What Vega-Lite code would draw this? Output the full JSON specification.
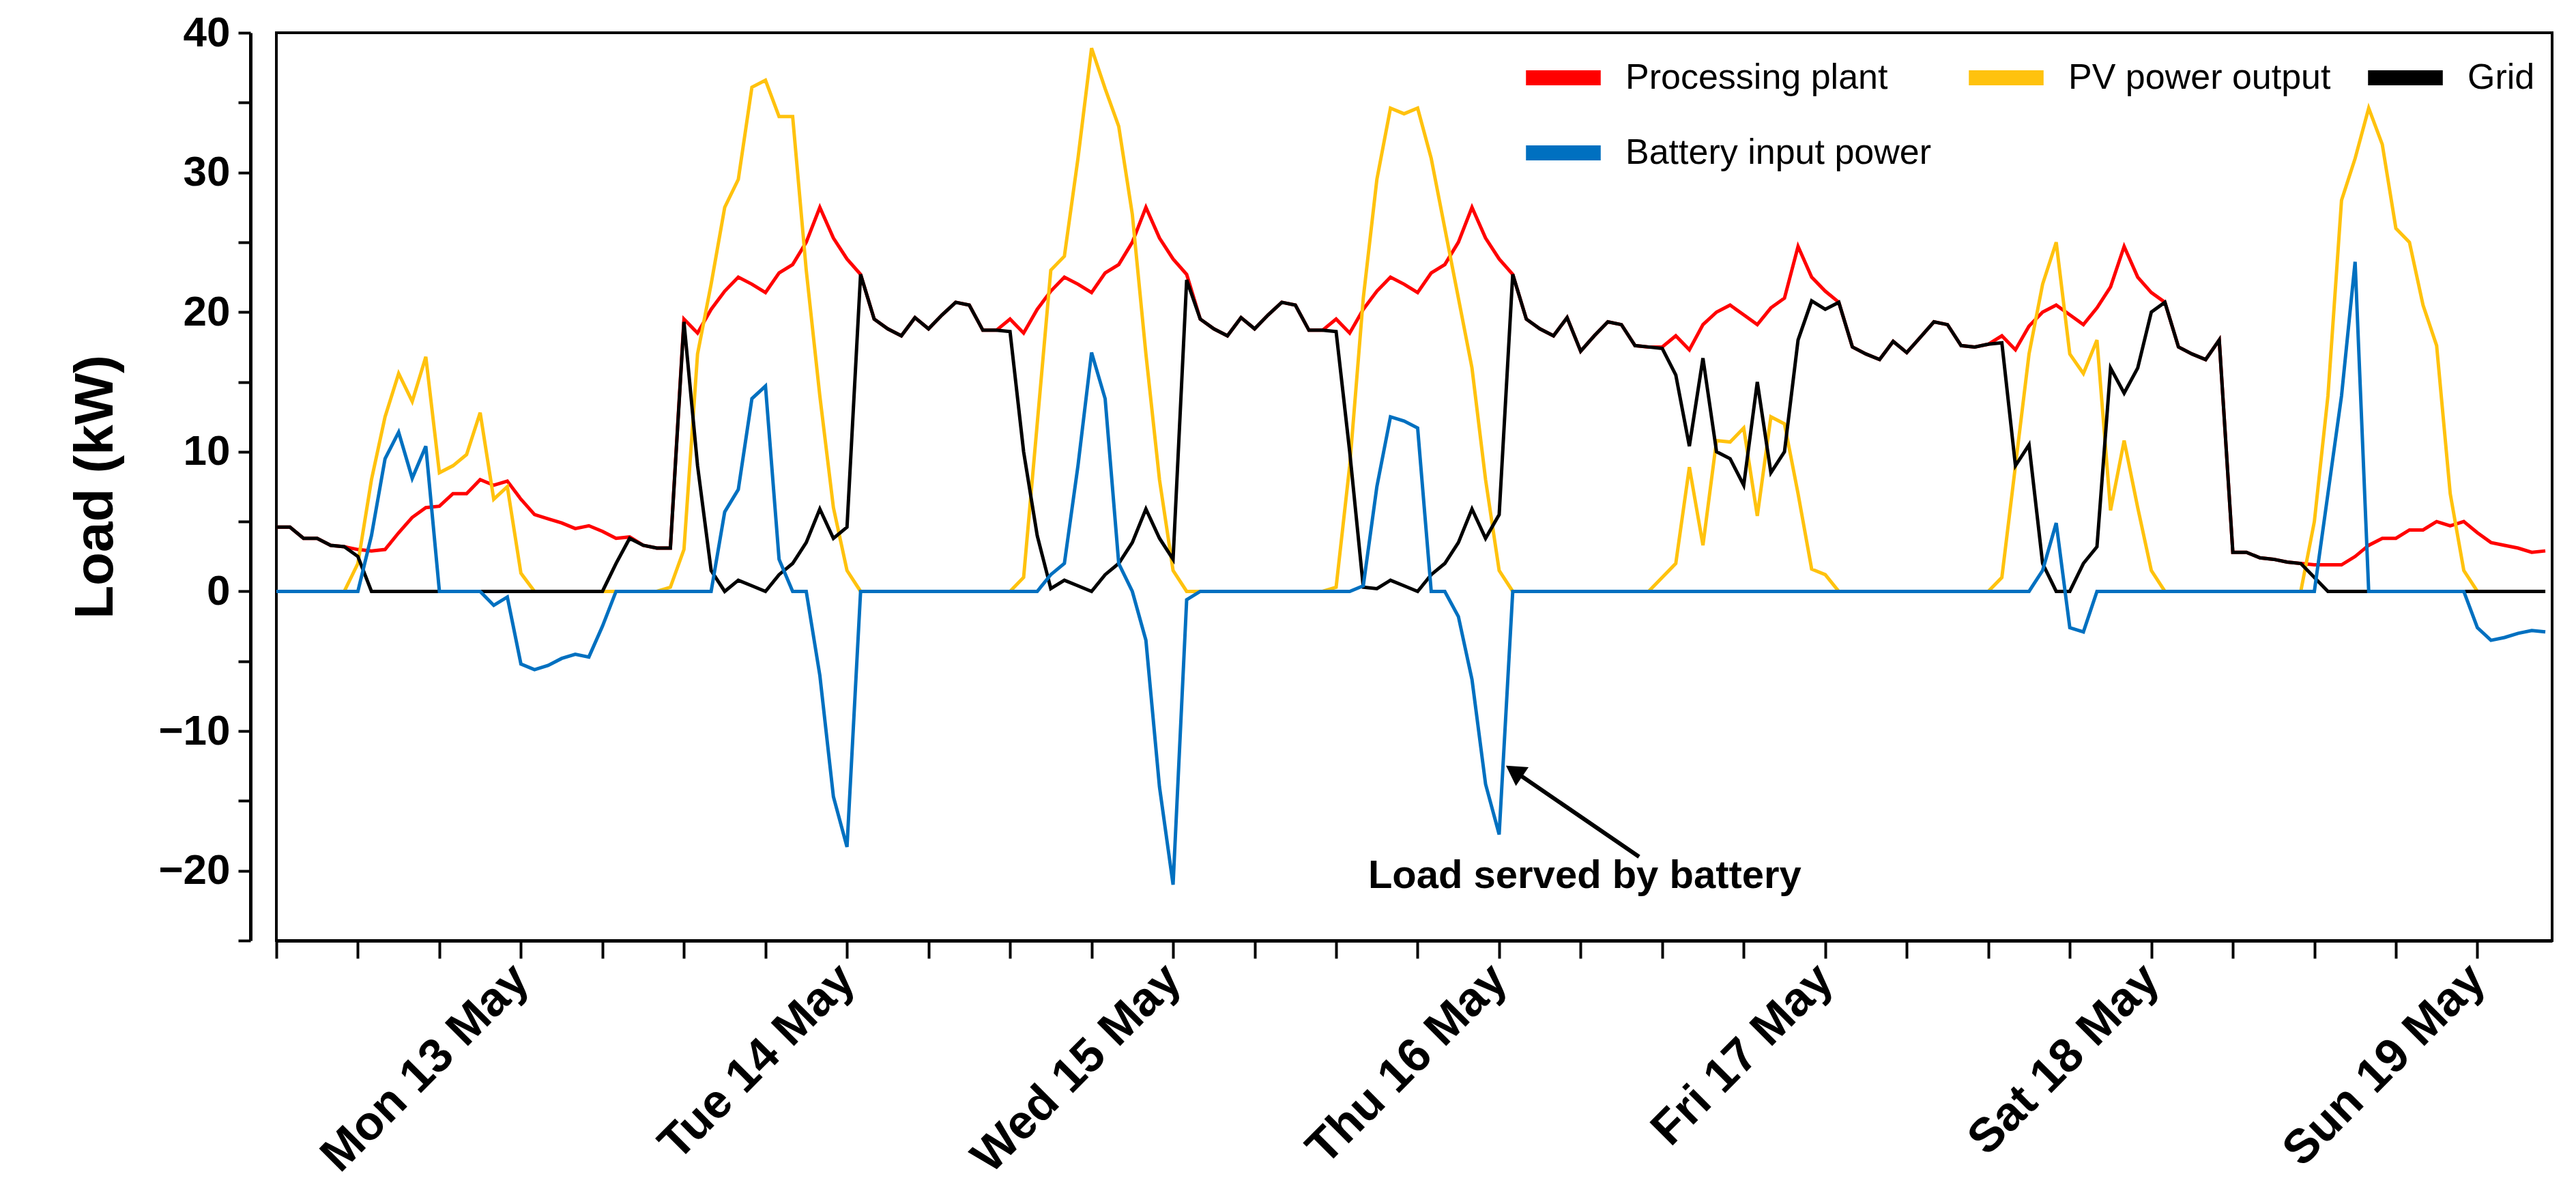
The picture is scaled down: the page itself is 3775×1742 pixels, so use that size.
{
  "$schema": "https://vega.github.io/schema/vega-lite/v6.json",
  "width": 3335,
  "height": 1330,
  "autosize": "none",
  "padding": {"left": 405, "top": 48, "right": 35, "bottom": 364},
  "background": "white",
  "config": {
    "view": {"stroke": "black", "strokeWidth": 4},
    "font": "Liberation Sans"
  },
  "layer": [
    {
      "data": {"values": [
        {"h":0,"load":4.6,"grid":4.6,"pv":0,"battery":0},
        {"h":1,"load":4.6,"grid":4.6,"pv":0,"battery":0},
        {"h":2,"load":3.8,"grid":3.8,"pv":0,"battery":0},
        {"h":3,"load":3.8,"grid":3.8,"pv":0,"battery":0},
        {"h":4,"load":3.3,"grid":3.3,"pv":0,"battery":0},
        {"h":5,"load":3.2,"grid":3.2,"pv":0,"battery":0},
        {"h":6,"load":3.0,"grid":2.5,"pv":2,"battery":0},
        {"h":7,"load":2.9,"grid":0,"pv":8,"battery":4},
        {"h":8,"load":3.0,"grid":0,"pv":12.5,"battery":9.5},
        {"h":9,"load":4.2,"grid":0,"pv":15.6,"battery":11.4},
        {"h":10,"load":5.3,"grid":0,"pv":13.6,"battery":8.1},
        {"h":11,"load":6.0,"grid":0,"pv":16.8,"battery":10.4},
        {"h":12,"load":6.1,"grid":0,"pv":8.5,"battery":0},
        {"h":13,"load":7.0,"grid":0,"pv":9,"battery":0},
        {"h":14,"load":7.0,"grid":0,"pv":9.8,"battery":0},
        {"h":15,"load":8.0,"grid":0,"pv":12.8,"battery":0},
        {"h":16,"load":7.6,"grid":0,"pv":6.6,"battery":-1.0},
        {"h":17,"load":7.9,"grid":0,"pv":7.5,"battery":-0.4},
        {"h":18,"load":6.6,"grid":0,"pv":1.3,"battery":-5.2},
        {"h":19,"load":5.5,"grid":0,"pv":0,"battery":-5.6},
        {"h":20,"load":5.2,"grid":0,"pv":0,"battery":-5.3},
        {"h":21,"load":4.9,"grid":0,"pv":0,"battery":-4.8},
        {"h":22,"load":4.5,"grid":0,"pv":0,"battery":-4.5},
        {"h":23,"load":4.7,"grid":0,"pv":0,"battery":-4.7},
        {"h":24,"load":4.3,"grid":0,"pv":0,"battery":-2.5},
        {"h":25,"load":3.8,"grid":2.0,"pv":0,"battery":0},
        {"h":26,"load":3.9,"grid":3.8,"pv":0,"battery":0},
        {"h":27,"load":3.3,"grid":3.3,"pv":0,"battery":0},
        {"h":28,"load":3.1,"grid":3.1,"pv":0,"battery":0},
        {"h":29,"load":3.1,"grid":3.1,"pv":0.3,"battery":0},
        {"h":30,"load":19.5,"grid":19.3,"pv":3,"battery":0},
        {"h":31,"load":18.5,"grid":9,"pv":17,"battery":0},
        {"h":32,"load":20.2,"grid":1.5,"pv":22,"battery":0},
        {"h":33,"load":21.5,"grid":0,"pv":27.5,"battery":5.7},
        {"h":34,"load":22.5,"grid":0.8,"pv":29.5,"battery":7.3},
        {"h":35,"load":22.0,"grid":0.4,"pv":36.1,"battery":13.8},
        {"h":36,"load":21.4,"grid":0,"pv":36.6,"battery":14.7},
        {"h":37,"load":22.8,"grid":1.2,"pv":34,"battery":2.3},
        {"h":38,"load":23.4,"grid":2.0,"pv":34,"battery":0},
        {"h":39,"load":25.0,"grid":3.5,"pv":23,"battery":0},
        {"h":40,"load":27.5,"grid":5.9,"pv":14,"battery":-6},
        {"h":41,"load":25.3,"grid":3.8,"pv":6,"battery":-14.7},
        {"h":42,"load":23.8,"grid":4.6,"pv":1.5,"battery":-18.3},
        {"h":43,"load":22.7,"grid":22.7,"pv":0,"battery":0},
        {"h":44,"load":19.5,"grid":19.5,"pv":0,"battery":0},
        {"h":45,"load":18.8,"grid":18.8,"pv":0,"battery":0},
        {"h":46,"load":18.3,"grid":18.3,"pv":0,"battery":0},
        {"h":47,"load":19.6,"grid":19.6,"pv":0,"battery":0},
        {"h":48,"load":18.8,"grid":18.8,"pv":0,"battery":0},
        {"h":49,"load":19.8,"grid":19.8,"pv":0,"battery":0},
        {"h":50,"load":20.7,"grid":20.7,"pv":0,"battery":0},
        {"h":51,"load":20.5,"grid":20.5,"pv":0,"battery":0},
        {"h":52,"load":18.7,"grid":18.7,"pv":0,"battery":0},
        {"h":53,"load":18.7,"grid":18.7,"pv":0,"battery":0},
        {"h":54,"load":19.5,"grid":18.6,"pv":0,"battery":0},
        {"h":55,"load":18.5,"grid":10,"pv":1,"battery":0},
        {"h":56,"load":20.2,"grid":4,"pv":12,"battery":0},
        {"h":57,"load":21.5,"grid":0.2,"pv":23,"battery":1.2},
        {"h":58,"load":22.5,"grid":0.8,"pv":24,"battery":2},
        {"h":59,"load":22.0,"grid":0.4,"pv":31,"battery":9},
        {"h":60,"load":21.4,"grid":0,"pv":38.9,"battery":17.1},
        {"h":61,"load":22.8,"grid":1.2,"pv":36,"battery":13.8},
        {"h":62,"load":23.4,"grid":2.0,"pv":33.3,"battery":2},
        {"h":63,"load":25.0,"grid":3.5,"pv":27,"battery":0},
        {"h":64,"load":27.5,"grid":5.9,"pv":17,"battery":-3.5},
        {"h":65,"load":25.3,"grid":3.8,"pv":8,"battery":-14},
        {"h":66,"load":23.8,"grid":2.3,"pv":1.5,"battery":-21},
        {"h":67,"load":22.7,"grid":22.3,"pv":0,"battery":-0.6},
        {"h":68,"load":19.5,"grid":19.5,"pv":0,"battery":0},
        {"h":69,"load":18.8,"grid":18.8,"pv":0,"battery":0},
        {"h":70,"load":18.3,"grid":18.3,"pv":0,"battery":0},
        {"h":71,"load":19.6,"grid":19.6,"pv":0,"battery":0},
        {"h":72,"load":18.8,"grid":18.8,"pv":0,"battery":0},
        {"h":73,"load":19.8,"grid":19.8,"pv":0,"battery":0},
        {"h":74,"load":20.7,"grid":20.7,"pv":0,"battery":0},
        {"h":75,"load":20.5,"grid":20.5,"pv":0,"battery":0},
        {"h":76,"load":18.7,"grid":18.7,"pv":0,"battery":0},
        {"h":77,"load":18.7,"grid":18.7,"pv":0,"battery":0},
        {"h":78,"load":19.5,"grid":18.6,"pv":0.3,"battery":0},
        {"h":79,"load":18.5,"grid":10,"pv":9,"battery":0},
        {"h":80,"load":20.2,"grid":0.3,"pv":21,"battery":0.4},
        {"h":81,"load":21.5,"grid":0.2,"pv":29.5,"battery":7.5},
        {"h":82,"load":22.5,"grid":0.8,"pv":34.6,"battery":12.5},
        {"h":83,"load":22.0,"grid":0.4,"pv":34.2,"battery":12.2},
        {"h":84,"load":21.4,"grid":0,"pv":34.6,"battery":11.7},
        {"h":85,"load":22.8,"grid":1.2,"pv":31,"battery":0},
        {"h":86,"load":23.4,"grid":2.0,"pv":26,"battery":0},
        {"h":87,"load":25.0,"grid":3.5,"pv":21,"battery":-1.8},
        {"h":88,"load":27.5,"grid":5.9,"pv":16,"battery":-6.3},
        {"h":89,"load":25.3,"grid":3.8,"pv":8,"battery":-13.8},
        {"h":90,"load":23.8,"grid":5.5,"pv":1.5,"battery":-17.4},
        {"h":91,"load":22.7,"grid":22.7,"pv":0,"battery":0},
        {"h":92,"load":19.5,"grid":19.5,"pv":0,"battery":0},
        {"h":93,"load":18.8,"grid":18.8,"pv":0,"battery":0},
        {"h":94,"load":18.3,"grid":18.3,"pv":0,"battery":0},
        {"h":95,"load":19.6,"grid":19.6,"pv":0,"battery":0},
        {"h":96,"load":17.2,"grid":17.2,"pv":0,"battery":0},
        {"h":97,"load":18.3,"grid":18.3,"pv":0,"battery":0},
        {"h":98,"load":19.3,"grid":19.3,"pv":0,"battery":0},
        {"h":99,"load":19.1,"grid":19.1,"pv":0,"battery":0},
        {"h":100,"load":17.6,"grid":17.6,"pv":0,"battery":0},
        {"h":101,"load":17.5,"grid":17.5,"pv":0,"battery":0},
        {"h":102,"load":17.5,"grid":17.4,"pv":1,"battery":0},
        {"h":103,"load":18.3,"grid":15.5,"pv":2,"battery":0},
        {"h":104,"load":17.3,"grid":10.4,"pv":8.9,"battery":0},
        {"h":105,"load":19.1,"grid":16.7,"pv":3.3,"battery":0},
        {"h":106,"load":20.0,"grid":10,"pv":10.8,"battery":0},
        {"h":107,"load":20.5,"grid":9.5,"pv":10.7,"battery":0},
        {"h":108,"load":19.8,"grid":7.6,"pv":11.7,"battery":0},
        {"h":109,"load":19.1,"grid":15,"pv":5.4,"battery":0},
        {"h":110,"load":20.3,"grid":8.5,"pv":12.5,"battery":0},
        {"h":111,"load":21.0,"grid":10,"pv":12,"battery":0},
        {"h":112,"load":24.7,"grid":18,"pv":7,"battery":0},
        {"h":113,"load":22.5,"grid":20.8,"pv":1.6,"battery":0},
        {"h":114,"load":21.5,"grid":20.2,"pv":1.2,"battery":0},
        {"h":115,"load":20.7,"grid":20.7,"pv":0,"battery":0},
        {"h":116,"load":17.5,"grid":17.5,"pv":0,"battery":0},
        {"h":117,"load":17.0,"grid":17.0,"pv":0,"battery":0},
        {"h":118,"load":16.6,"grid":16.6,"pv":0,"battery":0},
        {"h":119,"load":17.9,"grid":17.9,"pv":0,"battery":0},
        {"h":120,"load":17.1,"grid":17.1,"pv":0,"battery":0},
        {"h":121,"load":18.2,"grid":18.2,"pv":0,"battery":0},
        {"h":122,"load":19.3,"grid":19.3,"pv":0,"battery":0},
        {"h":123,"load":19.1,"grid":19.1,"pv":0,"battery":0},
        {"h":124,"load":17.6,"grid":17.6,"pv":0,"battery":0},
        {"h":125,"load":17.5,"grid":17.5,"pv":0,"battery":0},
        {"h":126,"load":17.7,"grid":17.7,"pv":0,"battery":0},
        {"h":127,"load":18.3,"grid":17.8,"pv":1,"battery":0},
        {"h":128,"load":17.3,"grid":9,"pv":9,"battery":0},
        {"h":129,"load":19.0,"grid":10.5,"pv":17,"battery":0},
        {"h":130,"load":20.0,"grid":2,"pv":22,"battery":1.5},
        {"h":131,"load":20.5,"grid":0,"pv":25,"battery":4.9},
        {"h":132,"load":19.8,"grid":0,"pv":17,"battery":-2.6},
        {"h":133,"load":19.1,"grid":2,"pv":15.6,"battery":-2.9},
        {"h":134,"load":20.3,"grid":3.2,"pv":18,"battery":0},
        {"h":135,"load":21.8,"grid":16,"pv":5.8,"battery":0},
        {"h":136,"load":24.7,"grid":14.2,"pv":10.8,"battery":0},
        {"h":137,"load":22.5,"grid":16,"pv":6,"battery":0},
        {"h":138,"load":21.4,"grid":20,"pv":1.5,"battery":0},
        {"h":139,"load":20.7,"grid":20.7,"pv":0,"battery":0},
        {"h":140,"load":17.5,"grid":17.5,"pv":0,"battery":0},
        {"h":141,"load":17.0,"grid":17.0,"pv":0,"battery":0},
        {"h":142,"load":16.6,"grid":16.6,"pv":0,"battery":0},
        {"h":143,"load":18.0,"grid":18.0,"pv":0,"battery":0},
        {"h":144,"load":2.8,"grid":2.8,"pv":0,"battery":0},
        {"h":145,"load":2.8,"grid":2.8,"pv":0,"battery":0},
        {"h":146,"load":2.4,"grid":2.4,"pv":0,"battery":0},
        {"h":147,"load":2.3,"grid":2.3,"pv":0,"battery":0},
        {"h":148,"load":2.1,"grid":2.1,"pv":0,"battery":0},
        {"h":149,"load":2.0,"grid":2.0,"pv":0,"battery":0},
        {"h":150,"load":1.9,"grid":1.0,"pv":5,"battery":0},
        {"h":151,"load":1.9,"grid":0,"pv":14,"battery":7},
        {"h":152,"load":1.9,"grid":0,"pv":28,"battery":14},
        {"h":153,"load":2.5,"grid":0,"pv":31,"battery":23.6},
        {"h":154,"load":3.3,"grid":0,"pv":34.6,"battery":0},
        {"h":155,"load":3.8,"grid":0,"pv":32,"battery":0},
        {"h":156,"load":3.8,"grid":0,"pv":26,"battery":0},
        {"h":157,"load":4.4,"grid":0,"pv":25,"battery":0},
        {"h":158,"load":4.4,"grid":0,"pv":20.5,"battery":0},
        {"h":159,"load":5.0,"grid":0,"pv":17.6,"battery":0},
        {"h":160,"load":4.7,"grid":0,"pv":7,"battery":0},
        {"h":161,"load":5.0,"grid":0,"pv":1.5,"battery":0},
        {"h":162,"load":4.2,"grid":0,"pv":0,"battery":-2.6},
        {"h":163,"load":3.5,"grid":0,"pv":0,"battery":-3.5},
        {"h":164,"load":3.3,"grid":0,"pv":0,"battery":-3.3},
        {"h":165,"load":3.1,"grid":0,"pv":0,"battery":-3.0},
        {"h":166,"load":2.8,"grid":0,"pv":0,"battery":-2.8},
        {"h":167,"load":2.9,"grid":0,"pv":0,"battery":-2.9}
      ]},
      "transform": [
        {"fold": ["load", "pv", "grid", "battery"], "as": ["series", "value"]},
        {"calculate": "{'load': 'Processing plant', 'pv': 'PV power output', 'grid': 'Grid', 'battery': 'Battery input power'}[datum.series]", "as": "name"}
      ],
      "mark": {"type": "line", "strokeWidth": 5, "clip": true},
      "encoding": {
        "x": {
          "field": "h", "type": "quantitative",
          "scale": {"domain": [0, 167.5], "nice": false, "zero": false},
          "axis": {
            "title": null,
            "values": [0,6,12,18,24,30,36,42,48,54,60,66,72,78,84,90,96,102,108,114,120,126,132,138,144,150,156,162],
            "labelExpr": "datum.value % 24 == 18 ? ['Mon 13 May','Tue 14 May','Wed 15 May','Thu 16 May','Fri 17 May','Sat 18 May','Sun 19 May'][floor(datum.value / 24)] : ''",
            "labelAngle": -45,
            "labelAlign": "right",
            "labelBaseline": "middle",
            "labelFontSize": 70,
            "labelFontWeight": "bold",
            "labelColor": "black",
            "labelPadding": 20,
            "labelLimit": 0,
            "labelOverlap": false,
            "labelFlush": false,
            "tickColor": "black",
            "tickWidth": 4,
            "tickSize": 26,
            "domainColor": "black",
            "domainWidth": 5,
            "grid": false
          }
        },
        "y": {
          "field": "value", "type": "quantitative",
          "scale": {"domain": [-25, 40], "nice": false},
          "axis": {
            "title": "Load (kW)",
            "titleFontSize": 80,
            "titleFontWeight": "bold",
            "titleColor": "black",
            "titlePadding": 50,
            "values": [-25,-20,-15,-10,-5,0,5,10,15,20,25,30,35,40],
            "labelExpr": "datum.value % 10 == 0 ? datum.label : ''",
            "labelFontSize": 62,
            "labelFontWeight": "bold",
            "labelColor": "black",
            "labelPadding": 12,
            "offset": 38,
            "tickColor": "black",
            "tickWidth": 4,
            "tickSize": 18,
            "domainColor": "black",
            "domainWidth": 5,
            "grid": false
          }
        },
        "color": {
          "field": "name", "type": "nominal",
          "sort": ["Processing plant", "PV power output", "Grid", "Battery input power"],
          "scale": {
            "domain": ["Processing plant", "PV power output", "Grid", "Battery input power"],
            "range": ["#ff0000", "#ffc20e", "#000000", "#0070c0"]
          },
          "legend": {
            "title": null,
            "orient": "none",
            "legendX": 1820,
            "legendY": 0,
            "direction": "horizontal",
            "columns": 3,
            "symbolType": "stroke",
            "symbolSize": 12000,
            "symbolStrokeWidth": 22,
            "labelFontSize": 52,
            "labelOffset": 25,
            "labelColor": "black",
            "labelLimit": 1000,
            "columnPadding": 10,
            "rowPadding": -15
          }
        },
        "detail": {"field": "series"}
      }
    },
    {
      "data": {"values": [{"h": 100.3, "v": -19.0}, {"h": 91.6, "v": -13.2}]},
      "mark": {"type": "line", "color": "black", "strokeWidth": 6},
      "encoding": {
        "x": {"field": "h", "type": "quantitative"},
        "y": {"field": "v", "type": "quantitative"}
      }
    },
    {
      "data": {"values": [{"h": 91.3, "v": -13.0}]},
      "mark": {"type": "point", "shape": "triangle", "filled": true, "color": "black", "size": 1100, "angle": 304, "opacity": 1},
      "encoding": {
        "x": {"field": "h", "type": "quantitative"},
        "y": {"field": "v", "type": "quantitative"}
      }
    },
    {
      "data": {"values": [{"h": 96.3, "v": -20.4, "t": "Load served by battery"}]},
      "mark": {"type": "text", "fontSize": 58, "fontWeight": "bold", "color": "black", "align": "center", "baseline": "middle"},
      "encoding": {
        "x": {"field": "h", "type": "quantitative"},
        "y": {"field": "v", "type": "quantitative"},
        "text": {"field": "t"}
      }
    }
  ]
}
